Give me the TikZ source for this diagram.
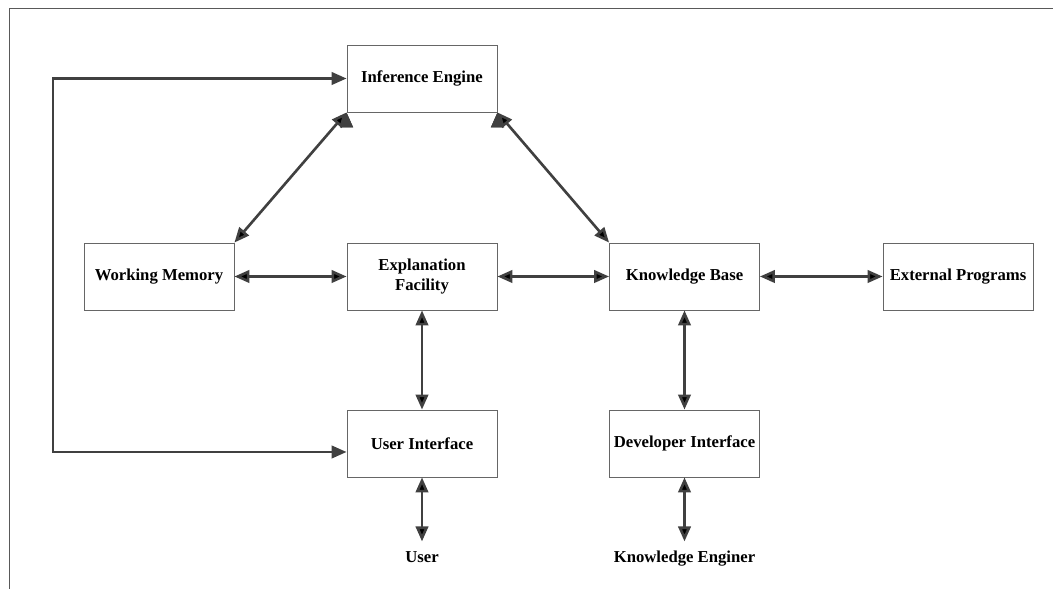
\documentclass[tikz,border=0pt]{standalone}
\usepackage{fontspec}
\setmainfont{Liberation Serif}
\usetikzlibrary{arrows.meta}

\tikzset{
	block/.style={shape=rectangle, draw=black!60, line width=0.5pt, inner xsep=1pt, minimum width=3cm, minimum height=1.34cm, align=center, font=\fontsize{9.5}{11}\selectfont\bfseries},
	actor/.style={shape=rectangle, inner sep=0.17cm, text height=0.24cm, text depth=0.07cm, font=\fontsize{9.5}{11}\selectfont\bfseries},
	link/.style={{Triangle[length=0.3cm,width=0.25cm]}-{Triangle[length=0.3cm,width=0.25cm]}, line width=1.5pt, draw=black!75},
}

\begin{document}
\begin{tikzpicture}
	\useasboundingbox (0,0) rectangle (21.06,11.78);
	\draw[black!65, line width=0.6pt] (0.19,0) -- (0.19,11.61) -- (21.06,11.61);

	\node[block] (ie) at (8.44, 10.21)    {Inference Engine};

	\node[block] (wm) at (3.18, 6.25)    {Working Memory};
	\node[block] (ef) at (8.44, 6.25)    {Explanation\\Facility};
	\node[block] (kb) at (13.69, 6.25)   {Knowledge Base};
	\node[block] (ep) at (19.16, 6.25)   {External Programs};

	\node[block] (ui) at (8.44, 2.91)    {User Interface};
	\node[block] (di) at (13.69, 2.91)   {Developer Interface};

	\node[actor] (user) at (8.44, 0.62)  {User};
	\node[actor] (ke) at (13.69, 0.62)   {Knowledge Enginer};

	\coordinate (lb) at (1.06, 2.74);

	\path[link] (ie.south west) edge (wm.north east);
	\path[link] (ie.south east) edge (kb.north west);

	\path[link] (wm) edge (ef);
	\path[link] (ef) edge (kb);
	\path[link] (kb) edge (ep);

	\path[link] (ef) edge (ui);
	\path[link] (kb) edge (di);
	\path[link] (ui) edge (user);
	\path[link] (di) edge (ke);

	\draw[link] (ie.west) -| (lb) -- (lb -| ui.west);

\end{tikzpicture}
\end{document}
